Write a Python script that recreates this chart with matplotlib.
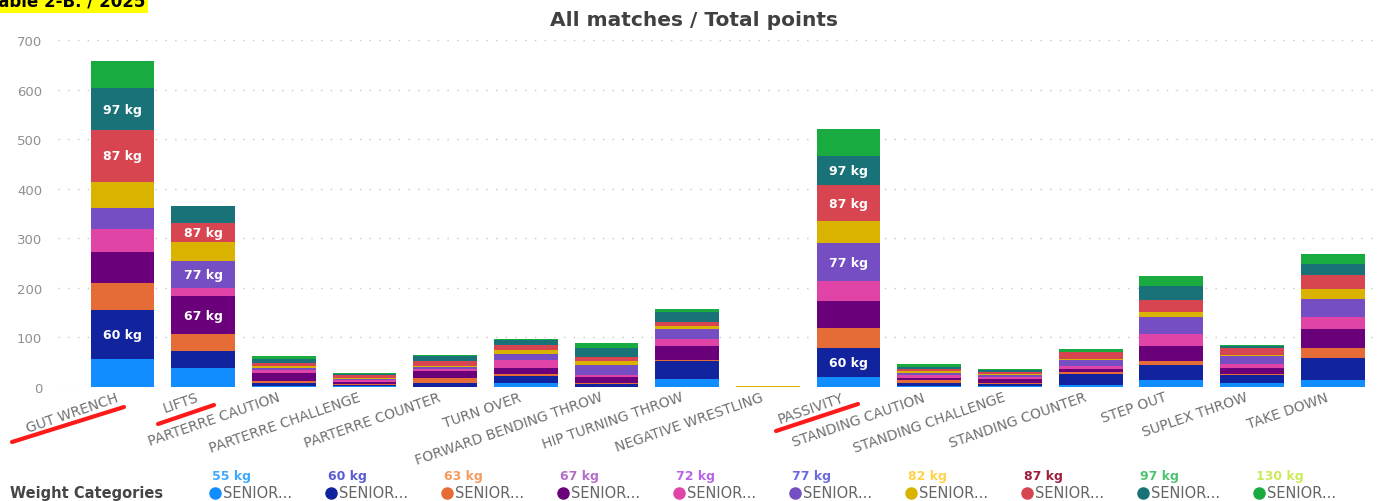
import matplotlib.pyplot as plt
import numpy as np
from matplotlib.lines import Line2D
from matplotlib.transforms import ScaledTranslation

categories = ['GUT WRENCH', 'LIFTS', 'PARTERRE CAUTION', 'PARTERRE CHALLENGE',
              'PARTERRE COUNTER', 'TURN OVER', 'FORWARD BENDING THROW',
              'HIP TURNING THROW', 'NEGATIVE WRESTLING', 'PASSIVITY',
              'STANDING CAUTION', 'STANDING CHALLENGE', 'STANDING COUNTER',
              'STEP OUT', 'SUPLEX THROW', 'TAKE DOWN']
weights = ['55 kg', '60 kg', '63 kg', '67 kg', '72 kg', '77 kg', '82 kg', '87 kg', '97 kg', '130 kg']

# points per weight category, one value per technique (same order as categories)
kg55 = [56, 38, 3, 2, 1, 8, 1, 16, 0, 21, 3, 3, 5, 15, 9, 15]
kg60 = [99, 35, 5, 3, 8, 14, 5, 36, 0, 57, 6, 3, 21, 29, 15, 44]
kg63 = [55, 34, 4, 2, 9, 4, 3, 2, 0, 41, 5, 3, 4, 9, 3, 20]
kg67 = [62, 76, 17, 4, 15, 13, 11, 29, 0, 55, 4, 7, 7, 30, 12, 38]
kg72 = [46, 17, 5, 3, 3, 15, 5, 13, 0, 39, 7, 5, 5, 23, 8, 24]
kg77 = [43, 55, 4, 2, 4, 12, 19, 22, 0, 77, 4, 3, 13, 35, 16, 36]
kg82 = [53, 37, 5, 2, 2, 9, 9, 5, 2, 44, 3, 2, 1, 11, 1, 21]
kg87 = [104, 39, 5, 6, 11, 9, 7, 8, 0, 74, 5, 4, 14, 24, 14, 28]
kg97 = [85, 34, 9, 3, 10, 11, 19, 21, 0, 58, 4, 4, 1, 28, 4, 23]
kg130 = [55, 0, 5, 1, 1, 1, 9, 5, 0, 54, 5, 2, 6, 19, 3, 19]
series = [kg55, kg60, kg63, kg67, kg72, kg77, kg82, kg87, kg97, kg130]

# segments that carry a data label inside the bar
labelled = [('GUT WRENCH', '60 kg'), ('GUT WRENCH', '87 kg'), ('GUT WRENCH', '97 kg'),
            ('LIFTS', '67 kg'), ('LIFTS', '77 kg'), ('LIFTS', '87 kg'),
            ('PASSIVITY', '60 kg'), ('PASSIVITY', '77 kg'), ('PASSIVITY', '87 kg'),
            ('PASSIVITY', '97 kg')]

colors = ['#118DFF', '#12239E', '#E66C37', '#6B007B', '#E044A7',
          '#744EC2', '#D9B300', '#D64550', '#197278', '#1AAB40']
kg_label_colors = ['#3FA9FF', '#5B5BD6', '#F59A5E', '#B36FC7', '#B765E8',
                   '#6B6BDF', '#FFD24A', '#9E1F3B', '#4CC46E', '#CBEA5E']

W, H = 1397, 502
fig = plt.figure(figsize=(W / 100, H / 100), dpi=100)
ax = fig.add_axes([58 / W, 1 - 388 / H, 1315 / W, 347 / H])

x = np.arange(len(categories))
bottom = np.zeros(len(categories))
for w, vals, c in zip(weights, series, colors):
    vals = np.array(vals, dtype=float)
    ax.bar(x, vals, 0.79, bottom=bottom, color=c, linewidth=0, zorder=2)
    for cat, kg in labelled:
        if kg == w:
            i = categories.index(cat)
            ax.text(i, bottom[i] + vals[i] / 2, w, color='white', fontsize=9,
                    fontweight='bold', ha='center', va='center', zorder=3)
    bottom += vals

ax.set_xlim(-0.8, 15.5)
ax.set_ylim(0, 700)
ax.set_yticks(range(0, 701, 100))
ax.grid(axis='y', color='#c8c8c8', linestyle=(0, (1, 6)), linewidth=1, zorder=0)
for s in ax.spines.values():
    s.set_visible(False)
ax.tick_params(axis='both', length=0)
ax.tick_params(axis='y', labelsize=9.5, labelcolor='#909090', pad=11.5)
ax.set_xticks(x)
ax.set_xticklabels(categories, rotation=19, ha='right', va='top',
                   rotation_mode='anchor', fontsize=10, color='#707070')
ax.tick_params(axis='x', pad=2)
shift = ScaledTranslation(-7 / 100, 0, fig.dpi_scale_trans)
for lab in ax.get_xticklabels():
    lab.set_transform(lab.get_transform() + shift)

fig.text(0.497, 1 - 20 / H, 'All matches / Total points', ha='center', va='center',
         fontsize=14.5, fontweight='bold', color='#404040')

fig.text(-11 / W, 1 - 7 / H, 'Table 2-B. / 2025', fontsize=12, fontweight='bold',
         color='black', va='baseline', ha='left',
         bbox=dict(facecolor='#FFFF00', edgecolor='none', pad=2))

# hand-drawn red underlines
for (x0, y0), (x1, y1) in [((12, 443), (124, 408)), ((158, 425), (214, 406)),
                           ((776, 432), (858, 405))]:
    fig.add_artist(Line2D([x0 / W, x1 / W], [1 - y0 / H, 1 - y1 / H], color='#FF1A1A',
                          linewidth=3, solid_capstyle='round', transform=fig.transFigure))

# legend
fig.text(10 / W, 1 - 494 / H, 'Weight Categories', fontsize=10.5, fontweight='bold',
         color='#454545', va='center', ha='left')
for i, (w, c, lc) in enumerate(zip(weights, colors, kg_label_colors)):
    dx = 215 + 116 * i
    fig.add_artist(Line2D([dx / W], [1 - 494 / H], marker='o', markersize=8,
                          color=c, linestyle='none', transform=fig.transFigure))
    fig.text((dx + 8) / W, 1 - 494 / H, 'SENIOR...', fontsize=10.5, color='#666666',
             va='center', ha='left')
    fig.text((dx - 3) / W, 1 - 477 / H, w, fontsize=9, fontweight='bold', color=lc,
             va='center', ha='left')

fig.savefig('out.png', dpi=100)
